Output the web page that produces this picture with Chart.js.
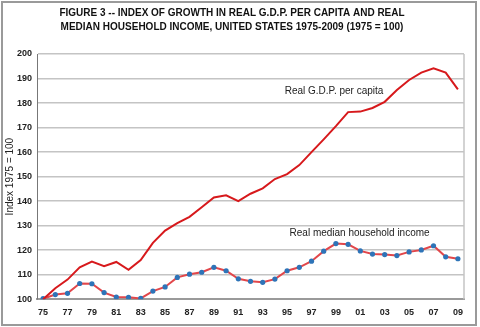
<!DOCTYPE html>
<html>
<head>
<meta charset="utf-8">
<script src="https://cdn.jsdelivr.net/npm/chart.js@4"></script>
<style>
  html, body { margin: 0; padding: 0; background: #fff; }
  #wrap { width: 480px; height: 327px; }
</style>
</head>
<body>
<div id="wrap"><canvas id="chart" width="480" height="327"></canvas></div>
<script>
const years = ['75','76','77','78','79','80','81','82','83','84','85','86','87','88','89','90','91','92',
    '93','94','95','96','97','98','99','00','01','02','03','04','05','06','07','08','09']

const gdpPerCapita = [100, 104.5, 108, 113, 115.3, 113.5, 115.2, 112, 116, 123, 128, 131, 133.6, 137.5, 141.5,
    142.4, 140, 143, 145.2, 149, 151, 154.7, 160, 165.2, 170.6, 176.3, 176.5, 178, 180.5, 185.3, 189.4,
    192.4, 194.2, 192.4, 185.6]

const medianIncome = [100.2, 101.9, 102.4, 106.4, 106.3, 102.7, 100.9, 100.8, 100.3, 103.3, 105, 108.9, 110.2,
    111, 113, 111.6, 108.3, 107.3, 106.9, 108.2, 111.6, 113, 115.5, 119.6, 122.7, 122.4, 119.7, 118.4,
    118.2, 117.8, 119.3, 120.1, 121.8, 117.3, 116.5]

const titleLines = [
    'FIGURE 3 -- INDEX OF GROWTH IN REAL G.D.P. PER CAPITA AND REAL',
    'MEDIAN HOUSEHOLD INCOME, UNITED STATES 1975-2009 (1975 = 100)'
]

const FONT = 'Arial, "Liberation Sans", sans-serif'


// ── frame, right border and series labels ───────────────────────────────────

const extras = {
    id: 'extras',
    beforeDraw(chart) {
        const c = chart.ctx
        c.save()
        c.strokeStyle = '#9a9a9a'
        c.lineWidth = 2
        c.strokeRect(2, 2, 474, 323)
        c.restore()
    },
    afterDatasetsDraw(chart) {
        const c = chart.ctx
        const { x, y } = chart.scales
        const a = chart.chartArea
        c.save()
        c.strokeStyle = '#c4c4c4'
        c.lineWidth = 1.5
        c.beginPath()
        c.moveTo(a.right, a.top)
        c.lineTo(a.right, a.bottom)
        c.stroke()

        c.fillStyle = '#222'
        c.font = '10px ' + FONT
        c.textBaseline = 'middle'
        c.fillText('Real G.D.P. per capita', x.getPixelForValue(19.8), y.getPixelForValue(185))
        c.fillText('Real median household income', x.getPixelForValue(20.2), y.getPixelForValue(127))
        c.restore()
    }
}


// ── chart ───────────────────────────────────────────────────────────────────

new Chart(document.getElementById('chart'), {
    type: 'line',
    data: {
        labels: years,
        datasets: [
            {
                label: 'Real G.D.P. per capita',
                data: gdpPerCapita,
                borderColor: '#d7191c',
                borderWidth: 2,
                pointRadius: 0,
                tension: 0,
            },
            {
                label: 'Real median household income',
                data: medianIncome,
                borderColor: '#e2474b',
                borderWidth: 2,
                pointRadius: 2.6,
                pointBackgroundColor: '#2e74b8',
                pointBorderWidth: 0,
                tension: 0,
            }
        ]
    },
    options: {
        responsive: false,
        animation: false,
        layout: { padding: { left: 0, right: 16, bottom: 1, top: 0 } },
        plugins: {
            legend: { display: false },
            tooltip: { enabled: false },
            title: {
                display: true,
                text: titleLines,
                color: '#111',
                font: { family: FONT, size: 10, weight: 'bold', lineHeight: 1.4 },
                padding: { top: 6, bottom: 20 }
            }
        },
        scales: {
            x: {
                offset: true,
                grid: { display: false, drawTicks: false },
                border: { color: '#9a9a9a', width: 2 },
                ticks: {
                    autoSkip: false,
                    maxRotation: 0,
                    padding: 8,
                    color: '#222',
                    font: { family: FONT, size: 9, weight: 'bold' },
                    callback: (v, i) => i % 2 === 0 ? years[i] : ''
                }
            },
            y: {
                min: 100,
                max: 200,
                afterFit: s => { s.width = 37 },
                grid: { color: '#c4c4c4', lineWidth: 1.5, drawTicks: false },
                border: { color: '#777', width: 1 },
                title: {
                    display: true,
                    text: 'Index 1975 = 100',
                    color: '#222',
                    font: { family: FONT, size: 10 },
                    padding: { top: 4, bottom: 4 }
                },
                ticks: {
                    stepSize: 10,
                    padding: 5,
                    color: '#222',
                    font: { family: FONT, size: 9, weight: 'bold' }
                }
            }
        }
    },
    plugins: [extras]
})
</script>
</body>
</html>
